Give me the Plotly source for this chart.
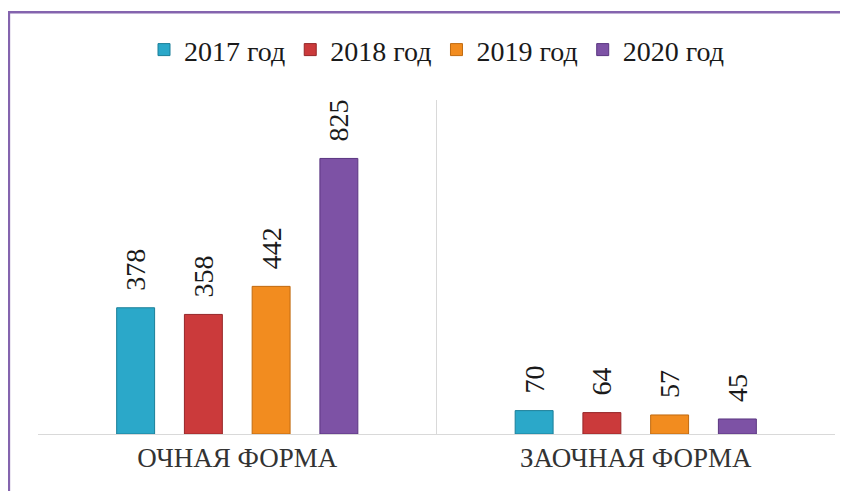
import plotly.graph_objects as go

categories = ["ОЧНАЯ ФОРМА", "ЗАОЧНАЯ ФОРМА"]
years = ["2017 год", "2018 год", "2019 год", "2020 год"]
values = {
    "2017 год": [378, 70],
    "2018 год": [358, 64],
    "2019 год": [442, 57],
    "2020 год": [825, 45],
}
colors = ["#2BA8C9", "#CB3A3B", "#F28C1F", "#7D52A5"]
edge_colors = ["#1B7F99", "#962628", "#C06A10", "#5A3580"]

serif = "Liberation Serif"

fig = go.Figure()
for name, col, edge in zip(years, colors, edge_colors):
    fig.add_trace(go.Bar(
        x=categories,
        y=values[name],
        name=name,
        marker=dict(color=col, line=dict(color=edge, width=1)),
        text=values[name],
        texttemplate="\u00a0\u00a0%{text}",
        textposition="outside",
        textangle=-90,
        constraintext="none",
        cliponaxis=False,
        textfont=dict(family=serif, size=28, color="#1a1a1a"),
    ))

# divider between the two categories
fig.add_shape(type="line", xref="x", yref="paper", x0=0.5, x1=0.5, y0=0, y1=1,
              line=dict(color="#D9D9D9", width=1))
# purple frame, cut off at right and bottom
fig.add_shape(type="rect", xref="paper", yref="paper",
              x0=-0.0365, x1=1.1, y0=-0.3, y1=1.263,
              line=dict(color="#8464AE", width=2.5))

# page body has an 8px margin, so the figure is 8px smaller each way
fig.update_layout(
    width=840,
    height=483,
    margin=dict(l=30, r=13, t=92, b=57),
    paper_bgcolor="white",
    plot_bgcolor="white",
    barmode="group",
    bargap=0.32,
    bargroupgap=0.44,
    showlegend=True,
    legend=dict(orientation="h", x=0.5, xanchor="center", y=1.15, yanchor="middle",
                font=dict(family=serif, size=28, color="#1a1a1a"),
                traceorder="normal"),
    xaxis=dict(showline=True, linecolor="#D9D9D9", linewidth=1, ticks="",
               tickfont=dict(family=serif, size=27, color="#333333"), showgrid=False),
    yaxis=dict(range=[0, 1000], visible=False, showgrid=False, zeroline=False),
)

fig.write_html("out.html")
